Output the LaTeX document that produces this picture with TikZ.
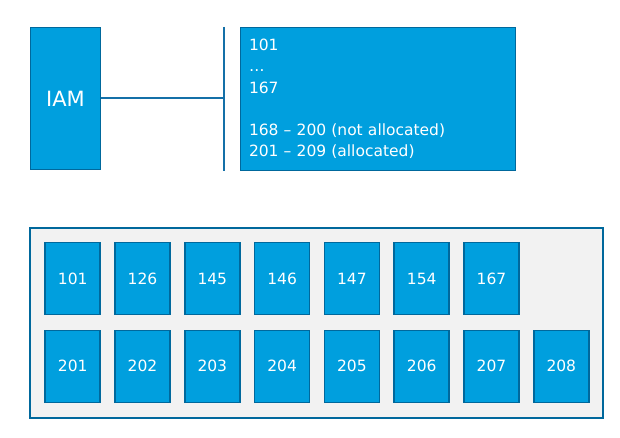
\documentclass[tikz,border=0pt]{standalone}
\usepackage{fontspec}
\setmainfont{DejaVu Sans}
\usepackage{xcolor}
\usetikzlibrary{positioning,backgrounds}
\pgfdeclarelayer{edgelayer}
\pgfdeclarelayer{nodelayer}
\pgfsetlayers{background,edgelayer,nodelayer,main}
\definecolor{boxblue}{RGB}{0,159,222}
\definecolor{edgeblue}{RGB}{0,104,156}
\definecolor{lineblue}{RGB}{20,112,168}
\definecolor{paleback}{RGB}{242,242,242}
\tikzstyle{none}=[inner sep=0mm]
\tikzstyle{bluebox}=[draw=edgeblue,line width=1.6pt,fill=boxblue,text=white,inner sep=0pt]
\tikzstyle{host}=[bluebox,minimum width=55pt,minimum height=72pt,font=\fontsize{15.5}{19}\selectfont]
\tikzstyle{pool}=[draw=edgeblue,line width=1.6pt,fill=paleback,inner sep=0pt]
\tikzstyle{wire}=[draw=lineblue,line width=2pt]

\begin{document}
\begin{tikzpicture}[x=1pt,y=-1pt]
	\useasboundingbox (0,0) rectangle (620,438);
	\begin{pgfonlayer}{nodelayer}
		\node [style=bluebox,minimum width=70pt,minimum height=142pt,font=\fontsize{21}{25}\selectfont] (iam) at (65.5,98.5) {IAM};
		\node [style=none] (bartop) at (224,27) {};
		\node [style=none] (barbot) at (224,171) {};
		\node [style=none] (barmid) at (224,98.5) {};
		\node [style=bluebox,minimum width=275pt,minimum height=143pt,text width=258pt,align=left,font=\fontsize{15.5}{21.2}\selectfont] (ranges) at (378,99) {101\\…\\167\\[21.2pt]168 – 200 (not allocated)\\201 – 209 (allocated)};
	\end{pgfonlayer}
	\begin{pgfonlayer}{background}
		\node [style=pool,minimum width=573pt,minimum height=190pt] (rack) at (316.3,322.7) {};
	\end{pgfonlayer}
	\begin{pgfonlayer}{nodelayer}
		\node [style=host] (h101) at (72.7,278.5) {101};
		\node [style=host] (h126) at (142.5,278.5) {126};
		\node [style=host] (h145) at (212.3,278.5) {145};
		\node [style=host] (h146) at (282.1,278.5) {146};
		\node [style=host] (h147) at (351.9,278.5) {147};
		\node [style=host] (h154) at (421.7,278.5) {154};
		\node [style=host] (h167) at (491.5,278.5) {167};
		\node [style=host] (h201) at (72.7,366.3) {201};
		\node [style=host] (h202) at (142.5,366.3) {202};
		\node [style=host] (h203) at (212.3,366.3) {203};
		\node [style=host] (h204) at (282.1,366.3) {204};
		\node [style=host] (h205) at (351.9,366.3) {205};
		\node [style=host] (h206) at (421.7,366.3) {206};
		\node [style=host] (h207) at (491.5,366.3) {207};
		\node [style=host] (h208) at (561.3,366.3) {208};
	\end{pgfonlayer}
	\begin{pgfonlayer}{edgelayer}
		\draw [style=wire] (bartop.center) to (barbot.center);
		\draw [style=wire] (iam.east) to (barmid.center);
	\end{pgfonlayer}
\end{tikzpicture}
\end{document}
